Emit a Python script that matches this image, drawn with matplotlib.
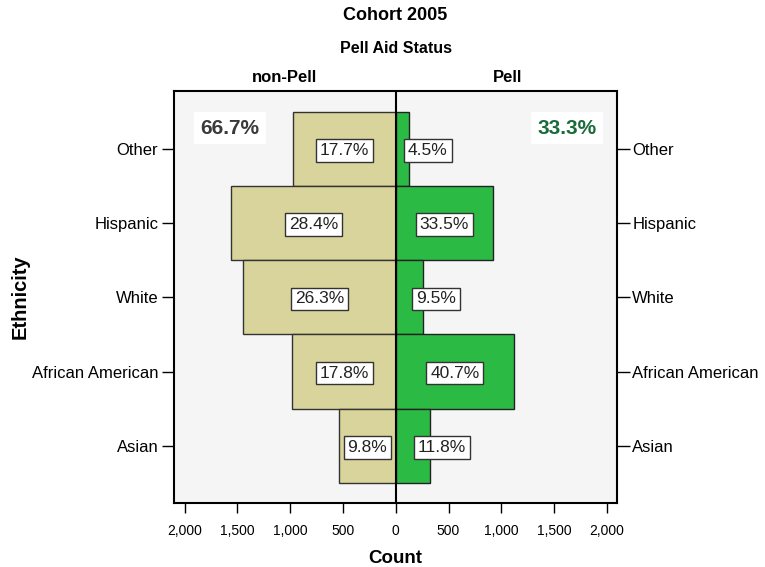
import numpy as np
import matplotlib
matplotlib.use("Agg")
import matplotlib.pyplot as plt

plt.rcParams["font.family"] = ["Liberation Sans", "DejaVu Sans"]

# data
ethnicity = ["Other", "Hispanic", "White", "African American", "Asian"]
non_pell = [973, 1562, 1447, 979, 539]
pell = [124, 920, 261, 1118, 324]
non_pell_pct = ["17.7%", "28.4%", "26.3%", "17.8%", "9.8%"]
pell_pct = ["4.5%", "33.5%", "9.5%", "40.7%", "11.8%"]
totals = ["66.7%", "33.3%"]
x_ticks = [-2000, -1500, -1000, -500, 0, 500, 1000, 1500, 2000]

c_np = "#D9D49B"
c_p = "#2BBB45"

fig = plt.figure(figsize=(7.65, 5.67), dpi=100)
ax = fig.add_axes([0.2268, 0.1129, 0.5797, 0.7266])
ax.set_facecolor("#F5F5F5")

y = np.arange(len(ethnicity))
ax.barh(y, [-v for v in non_pell], height=1.0, color=c_np, edgecolor="#333333", linewidth=1)
ax.barh(y, pell, height=1.0, color=c_p, edgecolor="#222222", linewidth=1)
ax.axvline(0, color="black", lw=1.5)

box = dict(boxstyle="square,pad=0.22", facecolor="white", edgecolor="#333333", linewidth=1)
for i in range(len(ethnicity)):
    ax.text(-non_pell[i] / 2, y[i] + 0.02, non_pell_pct[i], ha="center", va="center",
            fontsize=12.5, color="#222222", bbox=box)
    # small bars: push the label out past the centre line
    half = 26 * len(pell_pct[i]) + 100
    xp = pell[i] / 2
    if xp < half + 100:
        xp = half + 33 + 0.545 * pell[i]
    ax.text(xp, y[i] + 0.02, pell_pct[i], ha="center", va="center",
            fontsize=12.5, color="#222222", bbox=box)

ax.text(0.127, 0.91, totals[0], transform=ax.transAxes, ha="center", va="center",
        fontsize=15, fontweight="bold", color="#3A3A3A",
        bbox=dict(boxstyle="square,pad=0.3", facecolor="white", edgecolor="none"))
ax.text(0.887, 0.91, totals[1], transform=ax.transAxes, ha="center", va="center",
        fontsize=15, fontweight="bold", color="#1A6B3A",
        bbox=dict(boxstyle="square,pad=0.3", facecolor="white", edgecolor="none"))

ax.set_xlim(-2105, 2095)
ax.set_ylim(len(ethnicity) - 0.5 + 0.27, -0.5 - 0.28)
ax.set_xticks(x_ticks)
ax.set_xticklabels([f"{abs(t):,}" for t in x_ticks], fontsize=10)
ax.set_yticks(y)
ax.set_yticklabels(ethnicity, fontsize=12)
ax.tick_params(axis="y", which="both", left=True, right=True, labelleft=True,
               labelright=True, direction="out", length=9, width=1, pad=2)
ax.tick_params(axis="x", direction="out", length=7, width=1, pad=8)
for s in ax.spines.values():
    s.set_linewidth(1.5)
    s.set_color("black")

ax.set_xlabel("Count", fontsize=13.5, fontweight="bold", labelpad=9)
ax.set_ylabel("Ethnicity", fontsize=14.5, fontweight="bold")
ax.yaxis.set_label_coords(-0.325, 0.5)

fig.text(0.517, 0.972, "Cohort 2005", ha="center", va="center", fontsize=13, fontweight="bold")
fig.text(0.517, 0.914, "Pell Aid Status", ha="center", va="center", fontsize=11.5, fontweight="bold")
fig.text(0.372, 0.864, "non-Pell", ha="center", va="center", fontsize=12, fontweight="bold")
fig.text(0.663, 0.864, "Pell", ha="center", va="center", fontsize=12, fontweight="bold")

fig.savefig("out.png", dpi=100)
